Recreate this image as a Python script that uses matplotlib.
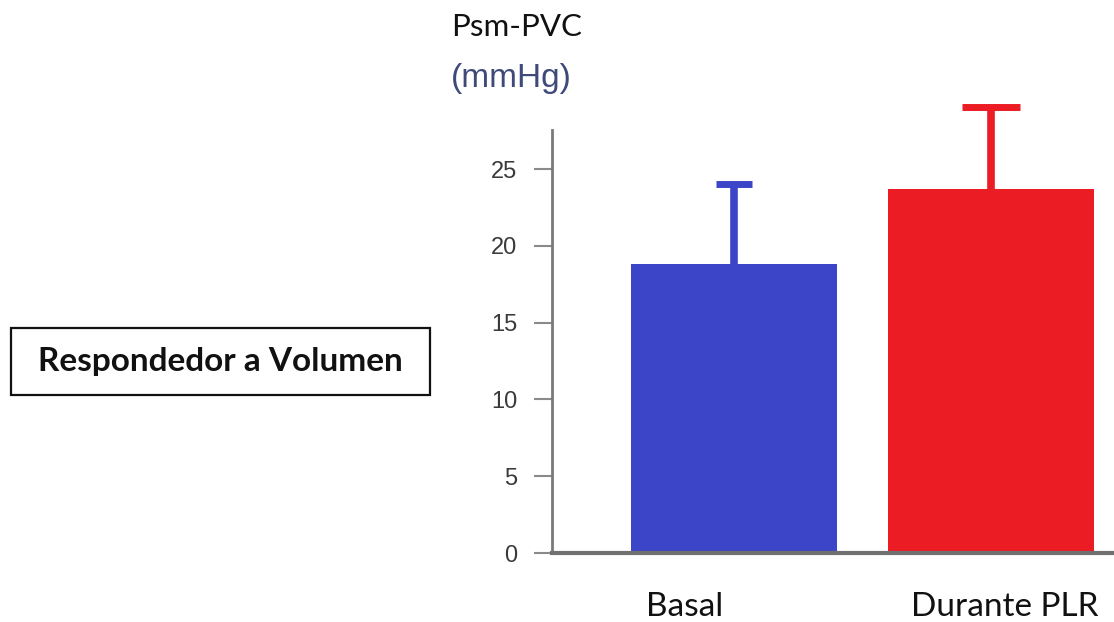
import matplotlib
matplotlib.use("Agg")
import matplotlib.pyplot as plt
import matplotlib.transforms as mtransforms
from matplotlib.patches import Rectangle

# Data
categories = ["Basal", "Durante PLR"]
means = [18.8, 23.7]
sd_upper = [5.2, 5.35]
bar_colors = ["#3c45c8", "#ec1c24"]
yticks = [0, 5, 10, 15, 20, 25]
y_label_top = "Psm-PVC"
y_label_unit = "(mmHg)"
panel_label = "Respondedor a Volumen"

W, H = 1114, 622
fig = plt.figure(figsize=(W / 100, H / 100), dpi=100)
fig.patch.set_facecolor("white")

ax = fig.add_axes([552 / W, (H - 553) / H, (W - 552) / W, (553 - 130) / H])
x = [0, 1]
ax.bar(x, means, width=0.80, color=bar_colors, zorder=2)

# upper-only error bars (no cap at the bar top)
caps = [13, 21]
for xi, m, e, c, cs in zip(x, means, sd_upper, bar_colors, caps):
    _, caplines, barcols = ax.errorbar([xi], [m], yerr=[[0], [e]], fmt="none",
                                       ecolor=c, elinewidth=5.5, capsize=cs,
                                       capthick=5, zorder=3)
    for cl in caplines:
        cl.set_clip_on(False)
        if abs(cl.get_ydata()[0] - m) < 1e-9:
            cl.set_visible(False)
    for bc in barcols:
        bc.set_clip_on(False)

ax.set_xlim(-0.708, 1.479)
ax.set_ylim(0, 27.54)

for side in ["top", "right"]:
    ax.spines[side].set_visible(False)
ax.spines["left"].set_color("#7a7a7a")
ax.spines["left"].set_linewidth(2.0)
ax.spines["bottom"].set_color("#707070")
ax.spines["bottom"].set_linewidth(3.0)

ax.set_yticks(yticks)
ax.set_yticklabels([str(t) for t in yticks], family="Liberation Sans",
                   fontsize=17, color="#3a3a3a")
ax.tick_params(axis="y", length=13, width=1.5, color="#8a8a8a", pad=12)

ax.set_xticks(x)
ax.set_xticklabels(categories, family="Lato", fontsize=24, color="#111111")
ax.tick_params(axis="x", length=0, pad=28)
shifts = [-49, 14]
for lbl, dx in zip(ax.get_xticklabels(), shifts):
    lbl.set_transform(lbl.get_transform() +
                      mtransforms.ScaledTranslation(dx / 100, 0, fig.dpi_scale_trans))

fig.text(517 / W, 1 - 27 / H, y_label_top, ha="center", va="center",
         family="Lato", fontsize=22.5, color="#111111")
fig.text(511 / W, 1 - 79 / H, y_label_unit, ha="center", va="center",
         family="Liberation Sans", fontsize=24, color="#3e4a78")

fig.patches.append(Rectangle((11 / W, 1 - 395 / H), 419 / W, 67 / H,
                             transform=fig.transFigure, fill=False,
                             edgecolor="#111111", linewidth=1.6))
fig.text(220 / W, 1 - 362 / H, panel_label, ha="center", va="center",
         family="Lato", fontweight="bold", fontsize=24, color="#111111")

fig.savefig("out.png", dpi=100, facecolor="white")
